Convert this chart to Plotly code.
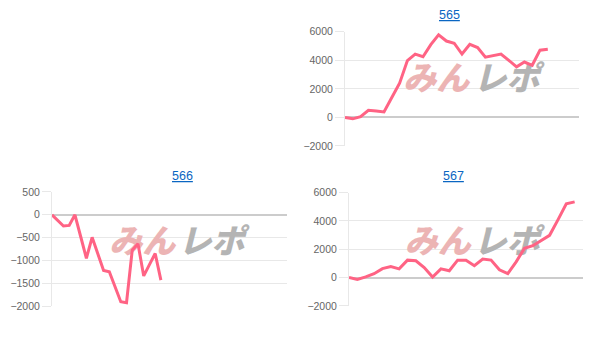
import plotly.graph_objects as go

# ---- data ----
titles = ["565", "566", "567"]
n_labels = [31, 42, 29]
vals_565 = [0, -100, 50, 500, 450, 380, 1390, 2400, 3980, 4430, 4250, 5100, 5780, 5350,
            5200, 4440, 5120, 4890, 4220, 4330, 4440, 4000, 3540, 3880, 3650, 4710, 4780]
vals_566 = [0, -120, -245, -232, 0, -475, -951, -493, -855, -1218, -1247, -1575, -1902,
            -1923, -774, -634, -1338, -1090, -846, -1429]
vals_567 = [0, -140, 45, 270, 630, 770, 614, 1227, 1180, 700, 40, 614, 477, 1227, 1227,
            840, 1300, 1230, 550, 270, 1110, 2070, 2250, 2590, 2980, 4070, 5200, 5340]
series = [vals_565, vals_566, vals_567]
y_ranges = [[-2000, 6000], [-2000, 500], [-2000, 6000]]
y_dticks = [2000, 500, 2000]
watermark = ["みん", "レポ"]

# ---- layout geometry ----
W, H = 609, 344
x_domains = [[345 / W, 579 / W], [52 / W, 287 / W], [349 / W, 583 / W]]
y_domains = [[1 - 145 / H, 1 - 26.7 / H], [1 - 311 / H, 1 - 192.7 / H], [1 - 310.7 / H, 1 - 193.3 / H]]
wm_fx = [[0.39, 0.69], [0.384, 0.679], [0.379, 0.674]]
wm_fy = [0.56, 0.535, 0.535]

LINE = "#ff6384"
GRID = "rgba(0,0,0,0.09)"
TICKFONT = dict(family="Liberation Sans, Arial, sans-serif", size=10.5, color="#666666")

fig = go.Figure()
annotations = []
for i in range(3):
    xa = "x" if i == 0 else f"x{i+1}"
    ya = "y" if i == 0 else f"y{i+1}"
    n = n_labels[i]
    yr = y_ranges[i]
    wy = yr[0] + wm_fy[i] * (yr[1] - yr[0])
    wxs = [f * (n - 1) for f in wm_fx[i]]
    # watermark (below the line)
    fig.add_trace(go.Scatter(
        x=wxs, y=[wy, wy], mode="text", text=watermark,
        textfont=dict(family="Noto Sans CJK JP", size=33, weight=900, style="italic",
                      color=["rgb(236,180,180)", "rgb(180,180,180)"]),
        xaxis=xa, yaxis=ya, showlegend=False, hoverinfo="skip"))
    vals = series[i]
    fig.add_trace(go.Scatter(
        x=list(range(len(vals))), y=vals, mode="lines",
        line=dict(color=LINE, width=3), xaxis=xa, yaxis=ya, showlegend=False))
    key = "" if i == 0 else str(i + 1)
    fig.layout["xaxis" + key] = dict(
        domain=x_domains[i], range=[0, n - 1], showticklabels=False, showgrid=False,
        zeroline=False, showline=False, anchor=ya, fixedrange=True)
    fig.layout["yaxis" + key] = dict(
        domain=y_domains[i], range=yr, dtick=y_dticks[i], tick0=0, anchor=xa,
        showgrid=True, gridcolor=GRID, gridwidth=1,
        zeroline=True, zerolinecolor="rgba(0,0,0,0.2)", zerolinewidth=1.5,
        showline=True, linecolor=GRID, linewidth=1,
        ticks="outside", ticklen=9, tickcolor=GRID, tickfont=TICKFONT,
        fixedrange=True)
    dom = x_domains[i]
    annotations.append(dict(
        text="<u>" + titles[i] + "</u>", xref="paper", yref="paper",
        x=(dom[0] + dom[1]) / 2, y=y_domains[i][1] + 0.022, yanchor="bottom",
        showarrow=False, font=dict(family="Liberation Sans, Arial, sans-serif", size=12.5,
                                   color="#0a66c2")))

fig.update_layout(
    width=W, height=H, margin=dict(l=0, r=0, t=0, b=0),
    paper_bgcolor="white", plot_bgcolor="white",
    annotations=annotations, showlegend=False)

fig.write_html("out.html")
